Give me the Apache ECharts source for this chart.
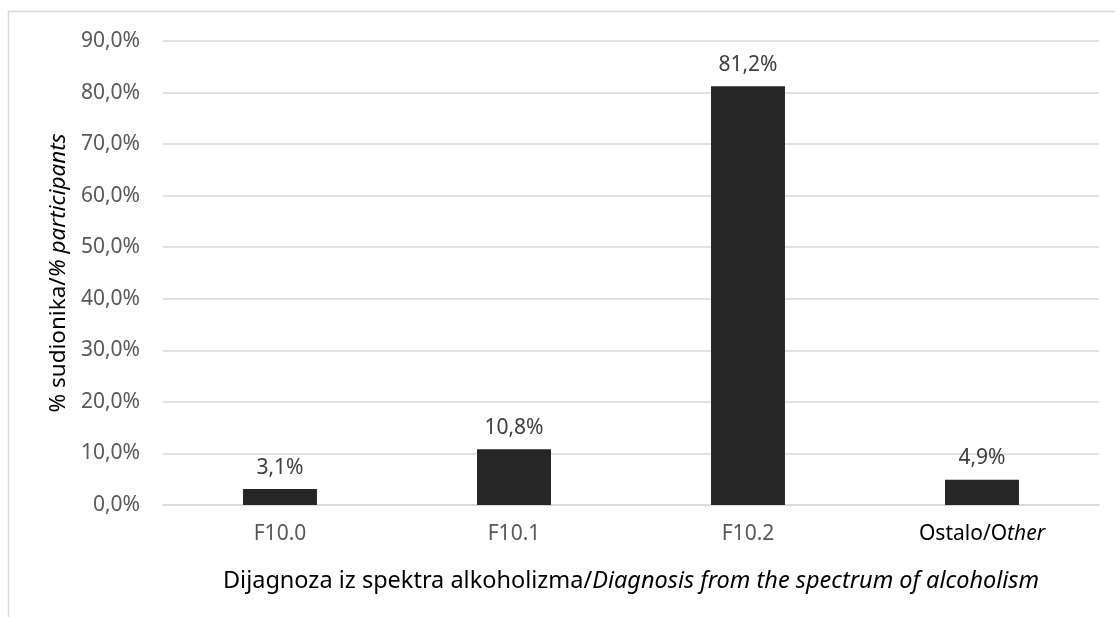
<!DOCTYPE html>
<html>
<head>
<meta charset="utf-8">
<script src="https://cdn.jsdelivr.net/npm/echarts@6/dist/echarts.min.js"></script>
<style>
  html, body { margin: 0; padding: 0; background: #fff; }
  #chart { width: 1115px; height: 617px; }
</style>
</head>
<body>
<div id="chart"></div>
<script>
  // dijagnoze
  var categories = ['F10.0', 'F10.1', 'F10.2', 'Ostalo/Other'];
  var percents = [3.1, 10.8, 81.2, 4.9];
  var yTicks = { min: 0, max: 90, interval: 10 };

  function pct(v) {
    return v.toFixed(1).replace('.', ',') + '%';
  }

  var chart = echarts.init(document.getElementById('chart'));
  chart.setOption({
    animation: false,
    textStyle: { fontFamily: 'Noto Sans' },
    graphic: [{
      type: 'rect',
      shape: { x: 8.5, y: 11.5, width: 1300, height: 800 },
      style: { fill: null, stroke: '#d9d9d9', lineWidth: 1.5 },
      silent: true
    }],
    grid: { left: 163, right: 16, top: 41, bottom: 112 },
    xAxis: {
      type: 'category',
      data: categories,
      axisLine: { lineStyle: { color: '#d9d9d9', width: 1.5 } },
      axisTick: { show: false },
      axisLabel: {
        interval: 0,
        color: '#595959',
        fontSize: 21,
        margin: 19,
        formatter: function (v) {
          if (v === 'Ostalo/Other') return '{b|Ostalo/O}{bi|ther}';
          return v;
        },
        rich: {
          b: { color: '#000', fontSize: 21, fontFamily: 'Noto Sans' },
          bi: { color: '#000', fontSize: 21, fontStyle: 'italic', fontFamily: 'Noto Sans' }
        }
      },
      name: '{n|Dijagnoza iz spektra alkoholizma/}{i|Diagnosis from the spectrum of alcoholism}',
      nameLocation: 'middle',
      nameGap: 64,
      nameTextStyle: {
        rich: {
          n: { color: '#000', fontSize: 23.5, fontFamily: 'Noto Sans' },
          i: { color: '#000', fontSize: 23.5, fontStyle: 'italic', fontFamily: 'Noto Sans' }
        }
      }
    },
    yAxis: {
      type: 'value',
      min: yTicks.min,
      max: yTicks.max,
      interval: yTicks.interval,
      axisLine: { show: false },
      axisTick: { show: false },
      splitLine: { lineStyle: { color: '#d9d9d9', width: 1.5 } },
      axisLabel: {
        color: '#595959',
        fontSize: 21,
        margin: 23,
        formatter: pct
      },
      name: '{n|% sudionika/}{i|% participants}',
      nameLocation: 'middle',
      nameGap: 90,
      nameRotate: 90,
      nameTextStyle: {
        rich: {
          n: { color: '#000', fontSize: 22.5, fontFamily: 'Noto Sans' },
          i: { color: '#000', fontSize: 22.5, fontStyle: 'italic', fontFamily: 'Noto Sans' }
        }
      }
    },
    series: [{
      type: 'bar',
      data: percents,
      barWidth: '31.6%',
      itemStyle: { color: '#262626' },
      label: {
        show: true,
        position: 'top',
        distance: 11,
        color: '#404040',
        fontSize: 21,
        formatter: function (p) { return pct(p.value); }
      }
    }]
  });
</script>
</body>
</html>
